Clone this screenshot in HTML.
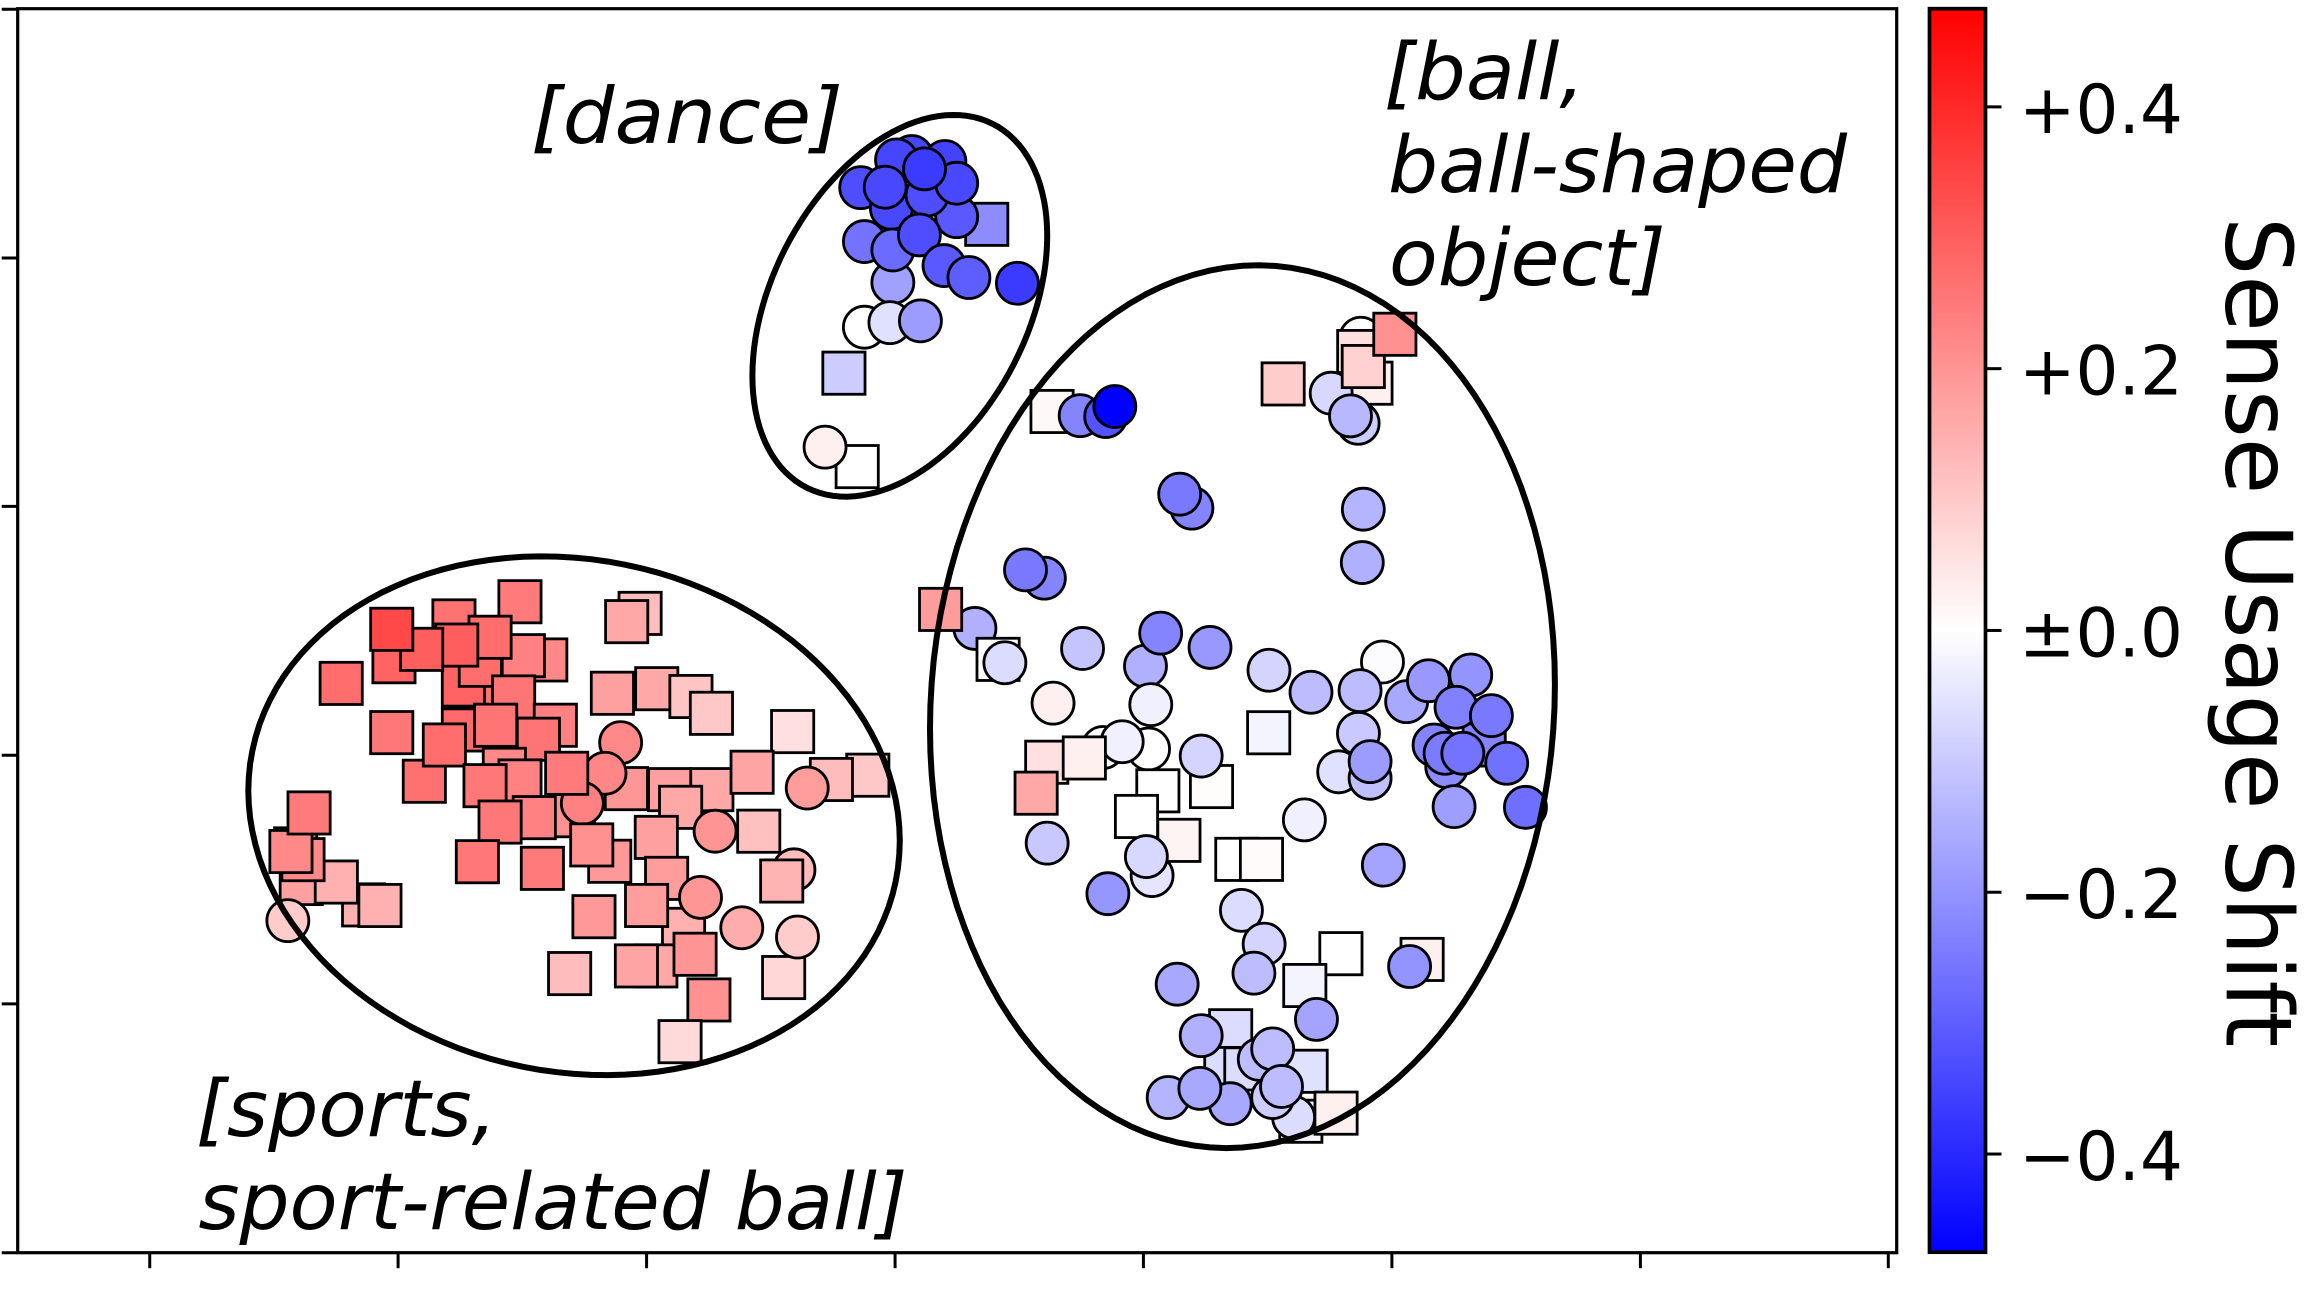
<!DOCTYPE html>
<html lang="en">
<head>
<meta charset="utf-8">
<title>Sense Usage Shift scatter</title>
<style>
html,body{margin:0;padding:0;background:#fff;width:2305px;height:1297px;overflow:hidden}
svg{display:block}
text{font-family:"DejaVu Sans","Liberation Sans",sans-serif;fill:#000}
.note{font-style:italic;font-size:78px}
.tick-label{font-size:67.5px}
</style>
</head>
<body>
<svg id="chart" xmlns="http://www.w3.org/2000/svg" width="2305" height="1297" viewBox="0 0 2305 1297">
  <defs>
    <linearGradient id="bwr" x1="0" y1="0" x2="0" y2="1">
      <stop offset="0" stop-color="#ff0000"/>
      <stop offset="0.5" stop-color="#ffffff"/>
      <stop offset="1" stop-color="#0000ff"/>
    </linearGradient>
  </defs>
  <g id="marks"></g>
  <g id="clusters"></g>
  <g id="axes"></g>
  <text class="note" transform="translate(531,143) scale(1.045,1)">[dance]</text>
  <text class="note" transform="translate(1384,99) scale(1.025,1)">[ball,</text>
  <text class="note" transform="translate(1388,192) scale(1.012,1)">ball-shaped</text>
  <text class="note" transform="translate(1389,285) scale(1.022,1)">object]</text>
  <text class="note" transform="translate(196,1136) scale(1.015,1)">[sports,</text>
  <text class="note" transform="translate(198.5,1229) scale(1.01,1)">sport-related ball]</text>
  <g id="colorbar"></g>
  <text transform="translate(2226.5,217) rotate(90)" font-size="91.8">Sense Usage Shift</text>
</svg>
<script>
// Cluster: sports
const sportsX = [
323,314.4,325.9,370.3,355.1,308,352.8,332.5,348.5,309.9,
267.3,286.1,265.8,434.3,425.2,231.5,376.8,314.4,336.3,265.8,
365.3,287.9,301.5,342.2,352.8,329.1,425,421.1,410.5,389,
395.1,384.5,362.5,339.3,413.7,401.5,368,323.9,415.5,445.6,
468.8,482.7,537.8,588.8,564.1,547.7,454.4,483,510.3,461.8,
514.8,445.3,485.2,538.7,530.4,463.8,452.3,475.3,403,438.7,
503.3,445,431.8,386.5,471.6,481,531.7,541.1,461.4,204.4,
246.7,228.2,257.8,200.6,205.6,197.4,209.7,195.3];
const sportsY = [
476.8,464.8,451.4,447.8,444.9,421.3,408.3,432.4,472.9,437.7,
449,440.6,427,416.2,421.8,463.7,492.1,495.3,492.1,497.1,
501.6,530.1,505.5,522,529.9,533.1,535.1,503.9,524.7,553.5,
545.1,524.7,554.8,557.8,584.4,573.3,589.2,584.7,470.4,467.3,
472.6,484,496.4,526,528.9,534.7,535.8,535.8,524,547.8,
564,568.2,564,590.2,597.8,630.6,596,608.9,622,614.4,
629.5,655.4,655.4,660.6,647.5,678.5,663.3,635.8,706.8,599.5,
614,598.5,614.4,576,583.3,577.8,551.6,624.7];
const sportsShift = [
.262,.29,.272,.22,.235,.262,.245,.272,.258,.30,
.29,.30,.34,.125,.162,.272,.235,.28,.258,.252,
.258,.266,.272,.22,.235,.252,.195,.22,.225,.205,
.235,.245,.235,.252,.192,.205,.245,.252,.177,.162,
.110,.102,.060,.102,.125,.184,.177,.162,.170,.162,
.117,.177,.199,.125,.140,.147,.184,.195,.192,.184,
.155,.162,.170,.125,.199,.205,.075,.095,.068,.177,
.147,.147,.147,.245,.22,.22,.245,.095];
const sportsKind = ("ssssssssss"+"ssssssssss"+"sssssssccs"+"csssssssss"+"ssssscssss"+"ssccssscss"+"csssssscss"+"sssssssc").split("");

// Cluster: dance
const danceX = [669.5,618.6,641.1,584,608.3,649.1,604.8,629,600.6,649.1,627.3,586.5,605.8,605.8,623.8,640.5,657.4,690.3,586.5,603.8,624.5,572.6,581.6,559.8];
const danceY = [152.2,106.2,109.6,127.3,108.5,147,141.3,132.3,127,124.3,114.6,163.9,191.7,169.6,159.4,180.2,188.3,192.2,222,218.9,217.7,253.2,316.6,303.4];
const danceShift = [-.215,-.345,-.35,-.33,-.345,-.31,-.34,-.33,-.34,-.34,-.365,-.26,-.177,-.275,-.33,-.31,-.30,-.365,0,-.058,-.184,-.095,0,.028];
const danceKind = ("s"+"cccccccccccccccccccc"+"ss"+"c").split("");

// Cluster: ball / ball-shaped object
const ballX = [
713.8,732.9,750.2,756.4,808.7,800.4,708.6,695.8,925,924.3,
870.6,923.3,930.2,921.9,903.2,925,921.5,916.3,946.4,661.5,
638.2,677.2,681.8,734.5,777.2,787.5,821,780.8,714.5,861,
889.5,938,921.7,922.8,954.4,969.2,997.9,1007,987.9,1011.9,
860.8,748.4,779.3,761.4,710.2,735.7,703,785.6,771.1,822,
815,799.9,710.5,781.7,777.8,751.7,839.2,855.9,885,938.6,
908.3,929.6,929.6,973,981.6,980.5,992.5,1022.3,986.6,1035,
842.3,857.7,850.8,909.8,964.9,956.4,885.3,798.7,893.2,835,
831.7,845.3,815,886.2,854.4,863.5,882.6,877.7,863.5,869.5,
906.5,792.6,834.7,814.1];
const ballY = [
279.2,282,282.6,275.8,344.8,335.3,392.3,386.7,345.5,381.7,
260.5,229.5,260,238.5,266.8,248.7,287.2,282.2,226.8,426.4,
413.5,447.4,449.7,440,452,429.6,439.3,478.1,477.1,454.8,
469.7,449.2,497.6,468.6,476.1,461.9,458,505.5,479.9,485.6,
497.2,507.2,508.2,503.3,517.2,514.3,538.2,536.6,554,533.7,
513,570.2,572.1,594.1,581.2,606.4,583.1,583.1,556.3,587,
523.7,528.1,516.8,505.5,520.2,511.1,511.1,517.9,547.3,547.8,
617.7,640.6,660.3,647.1,651,655.8,668.7,667.8,691.7,699.4,
725,725.3,702.7,726.9,718.8,711.7,760.8,758.2,744.7,737.2,
755.3,744.7,748.9,738.5];
const ballShift = [
.013,-.23,-.32,-.475,-.23,-.25,-.23,-.25,-.14,-.147,
.095,0,.028,.058,-.073,.087,-.095,-.132,.205,-.147,
.184,0,-.065,-.11,-.147,-.23,-.192,-.028,.028,-.08,
-.125,-.006,-.1,-.125,-.162,-.192,-.2,-.23,-.235,-.25,
-.02,0,0,-.028,.058,.028,.162,0,0,.006,
-.08,.02,-.102,-.05,-.073,-.195,0,.008,-.028,-.17,
-.058,-.117,-.184,-.23,-.215,-.245,-.26,-.265,-.18,-.27,
-.065,-.08,-.125,0,.028,-.199,-.02,-.162,-.17,-.065,
-.065,-.065,-.147,-.058,-.125,-.125,-.02,-.065,-.095,-.125,
.028,-.14,-.162,-.162];
const ballKind = ("sccccccccc"+"scsscsccsc"+"sscccccccc"+"cccccccscc"+"scccssssss"+"csccccsscc"+"cccccccccc"+"cccsscsccs"+"sscsccsccc"+"sccc").split("");

// Ticks (embedding units) and colour bar
const xTickValues = [101.6,270.1,438.7,607.3,775.8,944.4,1113,1281.2];
const yTickValues = [6.3,175.1,343.6,512.5,681.2,850];
const colorbarTicks = [0.4,0.2,0,-0.2,-0.4];
const colorbarLabels = ["+0.4","+0.2","\u00b10.0","\u22120.2","\u22120.4"];

const SVGNS = "http://www.w3.org/2000/svg";
const plot = {left:17.7, right:1896.7, top:8.7, bottom:1252.7};
const xDomain = [12.01,1286.9];
const yDomain = [5.9,850];
function xScale(v){return plot.left+(v-xDomain[0])*(plot.right-plot.left)/(xDomain[1]-xDomain[0]);}
function yScale(v){return plot.top+(v-yDomain[0])*(plot.bottom-plot.top)/(yDomain[1]-yDomain[0]);}

const shiftMax = 0.475;
const barBox = {left:1929.5, right:1985.5, top:8.7, bottom:1252.2};
function barY(v){return barBox.top+(shiftMax-v)/(2*shiftMax)*(barBox.bottom-barBox.top);}
function bwr(v){
  const t=Math.max(-1,Math.min(1,v/shiftMax));
  if(t>=0){const c=Math.round(255*(1-t));return "rgb(255,"+c+","+c+")";}
  const c=Math.round(255*(1+t));return "rgb("+c+","+c+",255)";
}
function make(tag,attrs,parent){
  const el=document.createElementNS(SVGNS,tag);
  for(const k in attrs){el.setAttribute(k,attrs[k]);}
  parent.appendChild(el);
  return el;
}

const marks=document.getElementById("marks");
const SQUARE=42.2, RADIUS=21, EDGE=2.8;
function drawCluster(clusterName,xs,ys,shifts,kinds){
  xs.forEach(function(xv,i){
    const cx=xScale(xv), cy=yScale(ys[i]), fill=bwr(shifts[i]);
    let el;
    if(kinds[i]==="s"){
      el=make("rect",{x:cx-SQUARE/2,y:cy-SQUARE/2,width:SQUARE,height:SQUARE,fill:fill,stroke:"#000","stroke-width":EDGE},marks);
    }else{
      el=make("circle",{cx:cx,cy:cy,r:RADIUS,fill:fill,stroke:"#000","stroke-width":EDGE},marks);
    }
    
    
  });
}
drawCluster("sports",sportsX,sportsY,sportsShift,sportsKind);
drawCluster("dance",danceX,danceY,danceShift,danceKind);
drawCluster("ball",ballX,ballY,ballShift,ballKind);

// Tilted ellipse outlines: centre, half extents, and vertical offset at the x extreme (embedding units)
function outlinePath(cx,cy,halfX,halfY,tilt){
  const minor=Math.sqrt(halfY*halfY-tilt*tilt);
  let d="";
  for(let i=0;i<=120;i++){
    const a=i/120*2*Math.PI;
    const px=xScale(cx+halfX*Math.cos(a));
    const py=yScale(cy+tilt*Math.cos(a)+minor*Math.sin(a));
    d+=(i===0?"M":"L")+px.toFixed(1)+" "+py.toFixed(1);
  }
  return d+"Z";
}
const clusters=document.getElementById("clusters");
const sportsOutline=make("path",{d:outlinePath(389.5,553.5,221,176,17),fill:"none",stroke:"#000","stroke-width":6},clusters);


const danceOutline=make("path",{d:outlinePath(610.5,207.5,100,129.5,-47.5),fill:"none",stroke:"#000","stroke-width":6},clusters);


const ballOutline=make("path",{d:outlinePath(843,479.5,212,299.5,-15),fill:"none",stroke:"#000","stroke-width":6},clusters);



const axes=document.getElementById("axes");
const frame=make("rect",{x:plot.left,y:plot.top,width:plot.right-plot.left,height:plot.bottom-plot.top,fill:"none",stroke:"#000","stroke-width":3.2},axes);


xTickValues.forEach(function(v){
  const x=xScale(v);
  const t=make("line",{x1:x,x2:x,y1:plot.bottom,y2:plot.bottom+15.5,stroke:"#000","stroke-width":3},axes);
  
  
});
yTickValues.forEach(function(v){
  const y=yScale(v);
  const t=make("line",{x1:plot.left-16,x2:plot.left,y1:y,y2:y,stroke:"#000","stroke-width":3},axes);
  
  
});

const bar=document.getElementById("colorbar");
const barRect=make("rect",{x:barBox.left,y:barBox.top,width:barBox.right-barBox.left,height:barBox.bottom-barBox.top,fill:"url(#bwr)",stroke:"#000","stroke-width":3.7},bar);


colorbarTicks.forEach(function(v,i){
  const y=barY(v);
  const t=make("line",{x1:barBox.right,x2:barBox.right+16,y1:y,y2:y,stroke:"#000","stroke-width":3},bar);
  
  
  const label=make("text",{x:2019,y:y+26,"class":"tick-label"},bar);
  label.textContent=colorbarLabels[i];
  
  
});
</script>
</body>
</html>
